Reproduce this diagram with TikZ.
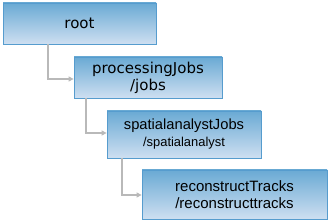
\documentclass[tikz,border=0pt]{standalone}
\usepackage{fontspec}
\setmainfont{Liberation Sans}
\newfontfamily\dv{DejaVu Sans}
\usetikzlibrary{arrows.meta}
\definecolor{boxtop}{RGB}{106,170,212}
\definecolor{boxbot}{RGB}{206,223,241}
\definecolor{boxline}{RGB}{86,156,206}
\definecolor{conn}{RGB}{185,185,185}
\tikzset{
  tbox/.style={draw=boxline, line width=0.8pt, top color=boxtop, bottom color=boxbot, inner sep=0pt, align=center, text=black},
  conn/.style={draw=conn, line width=1.2pt, -{Triangle[length=5pt,width=5pt]}}
}
\begin{document}
\begin{tikzpicture}[x=1pt,y=-1pt]
\useasboundingbox (0,0) rectangle (330,221);
\node[tbox, minimum width=153pt, minimum height=41pt, font=\dv\fontsize{15}{17}\selectfont] (root) at (79.5,23.5) {root};
\node[tbox, minimum width=148pt, minimum height=41pt, font=\dv\fontsize{15}{17}\selectfont] (proc) at (148,77.5) {processingJobs\\/jobs};
\node[tbox, minimum width=154pt, minimum height=47pt, font=\fontsize{14.7}{17}\selectfont] (spat) at (184,134.5) {spatialanalystJobs\\{\fontsize{12.9}{14}\selectfont /spatialanalyst}};
\node[tbox, minimum width=185pt, minimum height=49pt, font=\fontsize{15}{17}\selectfont] (rec) at (234.5,194.5) {reconstructTracks\\/reconstructtracks};
\coordinate (c1) at (48,79);
\coordinate (c2) at (86,133);
\coordinate (c3) at (122,195);
\draw[conn] (root.south -| c1) -- (c1) -- (c1 -| proc.west);
\draw[conn] (proc.south -| c2) -- (c2) -- (c2 -| spat.west);
\draw[conn] (spat.south -| c3) -- (c3) -- (c3 -| rec.west);
\end{tikzpicture}
\end{document}
